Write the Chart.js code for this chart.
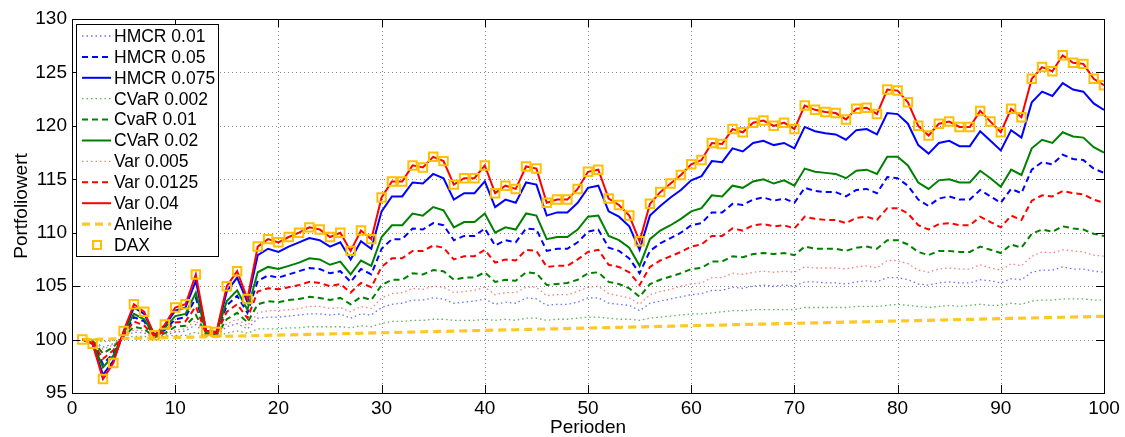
<!DOCTYPE html>
<html>
<head>
<meta charset="utf-8">
<script src="https://cdn.jsdelivr.net/npm/chart.js@4.4.0/dist/chart.umd.min.js"></script>
<style>
  html, body { margin: 0; padding: 0; background: #fff; }
  #wrap { width: 1125px; height: 437px; }
</style>
</head>
<body>
<div id="wrap"><canvas id="chart"></canvas></div>
<script>
const periods = [
  1, 2, 3, 4, 5, 6, 7, 8, 9, 10, 11, 12, 13, 14, 15, 16, 17, 18, 19, 20,
  21, 22, 23, 24, 25, 26, 27, 28, 29, 30, 31, 32, 33, 34, 35, 36, 37, 38, 39, 40,
  41, 42, 43, 44, 45, 46, 47, 48, 49, 50, 51, 52, 53, 54, 55, 56, 57, 58, 59, 60,
  61, 62, 63, 64, 65, 66, 67, 68, 69, 70, 71, 72, 73, 74, 75, 76, 77, 78, 79, 80,
  81, 82, 83, 84, 85, 86, 87, 88, 89, 90, 91, 92, 93, 94, 95, 96, 97, 98, 99, 100
];

const hmcr001 = [
  100.0, 99.9, 99.3, 99.6, 100.2, 100.7, 100.6, 100.2, 100.4, 100.7,
  100.8, 101.4, 100.4, 100.4, 101.2, 101.5, 101.0, 102.0, 102.1, 102.1,
  102.2, 102.3, 102.4, 102.4, 102.3, 102.4, 102.0, 102.4, 102.3, 103.0,
  103.3, 103.4, 103.7, 103.7, 103.9, 103.8, 103.4, 103.5, 103.6, 103.8,
  103.3, 103.5, 103.4, 103.9, 103.8, 103.2, 103.3, 103.3, 103.5, 103.9,
  103.9, 103.4, 103.3, 103.2, 102.7, 103.4, 103.6, 103.8, 104.0, 104.2,
  104.3, 104.6, 104.6, 104.9, 104.8, 105.0, 105.1, 105.0, 105.1, 105.0,
  105.4, 105.4, 105.3, 105.3, 105.2, 105.4, 105.5, 105.4, 105.8, 105.8,
  105.6, 105.2, 105.1, 105.3, 105.4, 105.3, 105.3, 105.6, 105.5, 105.3,
  105.7, 105.6, 106.3, 106.5, 106.5, 106.8, 106.6, 106.6, 106.4, 106.3
];
const hmcr005 = [
  100.0, 99.8, 97.7, 98.7, 100.5, 102.1, 101.7, 100.3, 100.9, 101.9,
  102.1, 103.9, 100.6, 100.5, 103.2, 104.1, 102.5, 105.5, 106.0, 105.8,
  106.1, 106.4, 106.7, 106.6, 106.2, 106.4, 105.4, 106.6, 106.1, 108.5,
  109.4, 109.4, 110.4, 110.3, 110.9, 110.7, 109.3, 109.7, 109.7, 110.4,
  108.8, 109.3, 109.1, 110.4, 110.3, 108.3, 108.5, 108.5, 109.1, 110.1,
  110.3, 108.6, 108.3, 107.6, 106.2, 108.3, 109.0, 109.5, 110.0, 110.7,
  110.9, 111.9, 111.9, 112.7, 112.6, 113.1, 113.3, 113.0, 113.2, 112.8,
  114.2, 113.9, 113.8, 113.8, 113.4, 114.0, 114.1, 113.7, 115.2, 115.1,
  114.4, 113.1, 112.5, 113.2, 113.4, 113.1, 113.1, 114.0, 113.4, 112.8,
  114.1, 113.7, 115.9, 116.6, 116.4, 117.3, 116.9, 116.8, 116.0, 115.6
];
const hmcr0075 = [
  100.0, 99.6, 96.7, 98.0, 100.7, 103.0, 102.4, 100.4, 101.3, 102.7,
  103.0, 105.5, 100.8, 100.7, 104.5, 105.8, 103.5, 107.9, 108.5, 108.2,
  108.7, 109.1, 109.5, 109.3, 108.7, 109.1, 107.5, 109.2, 108.5, 112.0,
  113.4, 113.4, 114.7, 114.6, 115.5, 115.1, 113.1, 113.7, 113.7, 114.8,
  112.4, 113.1, 112.8, 114.7, 114.5, 111.6, 111.9, 111.9, 112.8, 114.2,
  114.4, 112.0, 111.5, 110.6, 108.4, 111.6, 112.5, 113.3, 114.0, 114.9,
  115.3, 116.7, 116.6, 117.9, 117.6, 118.4, 118.6, 118.2, 118.4, 117.9,
  119.9, 119.5, 119.3, 119.2, 118.7, 119.6, 119.7, 119.2, 121.2, 121.1,
  120.2, 118.2, 117.4, 118.4, 118.6, 118.1, 118.1, 119.5, 118.6, 117.7,
  119.6, 118.9, 122.2, 123.2, 122.8, 124.0, 123.4, 123.2, 122.1, 121.5
];
const cvar0002 = [
  100.0, 100.0, 99.8, 99.9, 100.1, 100.3, 100.3, 100.2, 100.3, 100.4,
  100.4, 100.7, 100.3, 100.3, 100.6, 100.8, 100.6, 101.0, 101.0, 101.0,
  101.1, 101.1, 101.2, 101.2, 101.2, 101.2, 101.1, 101.3, 101.2, 101.5,
  101.7, 101.7, 101.8, 101.8, 101.9, 101.9, 101.8, 101.8, 101.8, 101.9,
  101.8, 101.9, 101.8, 102.0, 102.0, 101.8, 101.9, 101.9, 102.0, 102.1,
  102.1, 102.0, 101.9, 101.9, 101.8, 102.0, 102.1, 102.2, 102.3, 102.4,
  102.4, 102.5, 102.6, 102.7, 102.7, 102.8, 102.8, 102.8, 102.8, 102.8,
  103.0, 103.0, 103.0, 103.0, 103.0, 103.1, 103.1, 103.1, 103.2, 103.3,
  103.2, 103.1, 103.0, 103.1, 103.2, 103.1, 103.2, 103.3, 103.2, 103.2,
  103.4, 103.3, 103.6, 103.7, 103.7, 103.8, 103.8, 103.8, 103.7, 103.7
];
const cvar001 = [
  100.0, 99.9, 98.7, 99.3, 100.3, 101.2, 101.0, 100.2, 100.6, 101.2,
  101.3, 102.3, 100.5, 100.4, 101.9, 102.5, 101.6, 103.3, 103.6, 103.5,
  103.7, 103.8, 104.0, 103.9, 103.7, 103.9, 103.3, 104.0, 103.7, 105.1,
  105.6, 105.6, 106.2, 106.1, 106.5, 106.4, 105.6, 105.8, 105.8, 106.3,
  105.4, 105.6, 105.5, 106.3, 106.2, 105.1, 105.2, 105.3, 105.6, 106.2,
  106.3, 105.4, 105.2, 104.8, 104.0, 105.2, 105.6, 105.9, 106.2, 106.6,
  106.7, 107.3, 107.3, 107.8, 107.7, 108.0, 108.1, 108.0, 108.1, 107.9,
  108.7, 108.5, 108.5, 108.5, 108.3, 108.6, 108.7, 108.5, 109.3, 109.3,
  108.9, 108.2, 107.9, 108.3, 108.3, 108.2, 108.2, 108.7, 108.4, 108.1,
  108.9, 108.6, 109.9, 110.3, 110.1, 110.6, 110.4, 110.3, 109.9, 109.7
];
const cvar002 = [
  100.0, 99.7, 97.4, 98.5, 100.6, 102.4, 101.9, 100.3, 101.1, 102.2,
  102.4, 104.4, 100.6, 100.6, 103.6, 104.6, 102.8, 106.3, 106.8, 106.6,
  106.9, 107.2, 107.6, 107.5, 107.0, 107.3, 106.1, 107.4, 106.9, 109.6,
  110.7, 110.7, 111.8, 111.6, 112.4, 112.1, 110.5, 111.0, 111.0, 111.8,
  110.0, 110.5, 110.3, 111.8, 111.6, 109.4, 109.6, 109.6, 110.3, 111.5,
  111.6, 109.7, 109.3, 108.6, 106.9, 109.4, 110.2, 110.7, 111.3, 112.0,
  112.3, 113.5, 113.4, 114.4, 114.2, 114.8, 115.0, 114.6, 114.9, 114.4,
  116.0, 115.7, 115.6, 115.5, 115.1, 115.8, 115.9, 115.5, 117.1, 117.1,
  116.3, 114.7, 114.1, 114.9, 115.0, 114.7, 114.7, 115.8, 115.1, 114.3,
  115.9, 115.4, 117.9, 118.7, 118.4, 119.4, 119.0, 118.9, 118.0, 117.5
];
const var0005 = [
  100.0, 99.9, 99.1, 99.5, 100.3, 100.9, 100.8, 100.2, 100.5, 100.9,
  101.0, 101.8, 100.4, 100.4, 101.5, 101.9, 101.3, 102.5, 102.7, 102.7,
  102.8, 102.9, 103.1, 103.1, 102.9, 103.0, 102.6, 103.1, 102.9, 103.9,
  104.3, 104.4, 104.8, 104.7, 105.0, 104.9, 104.4, 104.5, 104.6, 104.9,
  104.2, 104.4, 104.4, 104.9, 104.9, 104.1, 104.2, 104.2, 104.5, 104.9,
  105.0, 104.3, 104.1, 103.9, 103.3, 104.2, 104.5, 104.7, 105.0, 105.2,
  105.3, 105.8, 105.8, 106.2, 106.1, 106.3, 106.4, 106.3, 106.4, 106.3,
  106.8, 106.7, 106.7, 106.7, 106.6, 106.8, 106.9, 106.7, 107.4, 107.4,
  107.1, 106.5, 106.3, 106.6, 106.7, 106.6, 106.6, 107.0, 106.7, 106.5,
  107.1, 106.9, 107.8, 108.2, 108.1, 108.4, 108.3, 108.2, 107.9, 107.8
];
const var00125 = [
  100.0, 99.8, 98.2, 99.0, 100.4, 101.7, 101.3, 100.3, 100.8, 101.6,
  101.7, 103.1, 100.5, 100.5, 102.6, 103.3, 102.0, 104.5, 104.8, 104.7,
  104.9, 105.1, 105.4, 105.3, 105.0, 105.2, 104.4, 105.3, 104.9, 106.8,
  107.6, 107.6, 108.3, 108.3, 108.8, 108.6, 107.5, 107.8, 107.8, 108.4,
  107.2, 107.5, 107.4, 108.4, 108.3, 106.8, 106.9, 106.9, 107.5, 108.2,
  108.4, 107.0, 106.8, 106.3, 105.1, 106.8, 107.4, 107.8, 108.2, 108.7,
  108.9, 109.7, 109.7, 110.4, 110.2, 110.7, 110.8, 110.6, 110.7, 110.4,
  111.5, 111.3, 111.2, 111.2, 110.9, 111.4, 111.5, 111.2, 112.3, 112.3,
  111.8, 110.7, 110.3, 110.8, 110.9, 110.7, 110.7, 111.5, 111.0, 110.5,
  111.6, 111.2, 113.0, 113.5, 113.4, 113.9, 113.7, 113.6, 113.1, 112.8
];
const var004 = [
  100.0, 99.6, 96.3, 97.8, 100.8, 103.3, 102.6, 100.4, 101.4, 103.0,
  103.3, 106.1, 100.8, 100.7, 105.0, 106.4, 103.8, 108.7, 109.4, 109.1,
  109.6, 110.0, 110.5, 110.3, 109.6, 110.0, 108.3, 110.2, 109.4, 113.3,
  114.8, 114.8, 116.3, 116.1, 117.1, 116.7, 114.5, 115.1, 115.1, 116.3,
  113.7, 114.4, 114.1, 116.2, 116.0, 112.8, 113.1, 113.1, 114.1, 115.7,
  115.9, 113.2, 112.6, 111.6, 109.2, 112.7, 113.8, 114.6, 115.4, 116.4,
  116.8, 118.4, 118.3, 119.7, 119.4, 120.3, 120.5, 120.0, 120.3, 119.7,
  121.9, 121.5, 121.3, 121.2, 120.6, 121.6, 121.7, 121.1, 123.4, 123.3,
  122.2, 120.0, 119.1, 120.2, 120.4, 119.9, 119.9, 121.4, 120.4, 119.4,
  121.6, 120.8, 124.4, 125.5, 125.1, 126.6, 125.9, 125.8, 124.4, 123.8
];
const anleihe = [
  100.00, 100.02, 100.04, 100.07, 100.09, 100.11, 100.13, 100.15, 100.18, 100.20,
  100.22, 100.24, 100.26, 100.29, 100.31, 100.33, 100.35, 100.37, 100.40, 100.42,
  100.44, 100.46, 100.48, 100.51, 100.53, 100.55, 100.57, 100.59, 100.62, 100.64,
  100.66, 100.68, 100.70, 100.73, 100.75, 100.77, 100.79, 100.81, 100.84, 100.86,
  100.88, 100.90, 100.92, 100.95, 100.97, 100.99, 101.01, 101.03, 101.06, 101.08,
  101.10, 101.12, 101.14, 101.17, 101.19, 101.21, 101.23, 101.25, 101.28, 101.30,
  101.32, 101.34, 101.36, 101.39, 101.41, 101.43, 101.45, 101.47, 101.50, 101.52,
  101.54, 101.56, 101.58, 101.61, 101.63, 101.65, 101.67, 101.69, 101.72, 101.74,
  101.76, 101.78, 101.80, 101.83, 101.85, 101.87, 101.89, 101.91, 101.94, 101.96,
  101.98, 102.00, 102.02, 102.05, 102.07, 102.09, 102.11, 102.13, 102.16, 102.18
];
const dax = [
  100.0, 99.6, 96.3, 97.8, 100.8, 103.3, 102.6, 100.4, 101.4, 103.0,
  103.3, 106.1, 100.8, 100.7, 105.0, 106.4, 103.8, 108.7, 109.4, 109.1,
  109.6, 110.0, 110.5, 110.3, 109.6, 110.0, 108.3, 110.2, 109.4, 113.3,
  114.8, 114.8, 116.3, 116.1, 117.1, 116.7, 114.5, 115.1, 115.1, 116.3,
  113.7, 114.4, 114.1, 116.2, 116.0, 112.8, 113.1, 113.1, 114.1, 115.7,
  115.9, 113.2, 112.6, 111.6, 109.2, 112.7, 113.8, 114.6, 115.4, 116.4,
  116.8, 118.4, 118.3, 119.7, 119.4, 120.3, 120.5, 120.0, 120.3, 119.7,
  121.9, 121.5, 121.3, 121.2, 120.6, 121.6, 121.7, 121.1, 123.4, 123.3,
  122.2, 120.0, 119.1, 120.2, 120.4, 119.9, 119.9, 121.4, 120.4, 119.4,
  121.6, 120.8, 124.4, 125.5, 125.1, 126.6, 125.9, 125.8, 124.4, 123.8
];

const xTicks = [0, 10, 20, 30, 40, 50, 60, 70, 80, 90, 100];
const yTicks = [95, 100, 105, 110, 115, 120, 125, 130];

const FONT = 'Liberation Sans, Arial, Helvetica, sans-serif';
const DOT = [1.5, 3];
const DASH = [6, 4];

const toXY = (vals) => vals.map((v, i) => ({x: periods[i], y: v}));

const line = (label, vals, color, width, dash) => ({
    label: label,
    data: toXY(vals),
    borderColor: color,
    backgroundColor: color,
    borderWidth: width,
    borderDash: dash,
    pointRadius: 0,
    fill: false,
    tension: 0
});

const datasets = [
    line('HMCR 0.01', hmcr001, 'rgba(60,60,255,0.75)', 1.3, DOT),
    line('HMCR 0.05', hmcr005, '#0000ff', 2, DASH),
    line('HMCR 0.075', hmcr0075, '#0000ff', 2, []),
    line('CVaR 0.002', cvar0002, 'rgba(40,150,40,0.75)', 1.3, DOT),
    line('CvaR 0.01', cvar001, '#008000', 2, DASH),
    line('CVaR 0.02', cvar002, '#008000', 2, []),
    line('Var 0.005', var0005, 'rgba(255,70,70,0.7)', 1.3, DOT),
    line('Var 0.0125', var00125, '#ff0000', 2, DASH),
    line('Var 0.04', var004, '#ff0000', 2, []),
    line('Anleihe', anleihe, 'rgba(255,190,0,0.85)', 3.2, [8, 5]),
    {
        label: 'DAX',
        data: toXY(dax),
        showLine: false,
        pointStyle: 'rect',
        pointRadius: 6,
        pointBorderWidth: 2,
        pointBorderColor: '#ffc000',
        pointBackgroundColor: 'rgba(0,0,0,0)',
        borderColor: '#ffc000',
        backgroundColor: 'rgba(0,0,0,0)'
    }
];
// later series on top, as in the original plot
datasets.forEach((d, i) => { d.order = datasets.length - i; });

// dotted grid under the data, box frame with inward ticks over it
const framePlugin = {
    id: 'frame',
    beforeDatasetsDraw(chart) {
        const {ctx, chartArea: a, scales: {x, y}} = chart;
        ctx.save();
        ctx.strokeStyle = '#8a8a8a';
        ctx.lineWidth = 1;
        ctx.setLineDash([1, 3]);
        ctx.beginPath();
        xTicks.forEach(t => {
            const px = Math.round(x.getPixelForValue(t)) + 0.5;
            ctx.moveTo(px, a.top); ctx.lineTo(px, a.bottom);
        });
        yTicks.forEach(t => {
            const py = Math.round(y.getPixelForValue(t)) + 0.5;
            ctx.moveTo(a.left, py); ctx.lineTo(a.right, py);
        });
        ctx.stroke();
        ctx.restore();
    },
    afterDatasetsDraw(chart) {
        const {ctx, chartArea: a, scales: {x, y}} = chart;
        ctx.save();
        ctx.strokeStyle = '#000';
        ctx.lineWidth = 1;
        ctx.setLineDash([]);
        ctx.strokeRect(a.left + 0.5, a.top + 0.5, a.right - a.left, a.bottom - a.top);
        ctx.beginPath();
        xTicks.forEach(t => {
            const px = Math.round(x.getPixelForValue(t)) + 0.5;
            ctx.moveTo(px, a.bottom); ctx.lineTo(px, a.bottom - 8);
            ctx.moveTo(px, a.top); ctx.lineTo(px, a.top + 8);
        });
        yTicks.forEach(t => {
            const py = Math.round(y.getPixelForValue(t)) + 0.5;
            ctx.moveTo(a.left, py); ctx.lineTo(a.left + 8, py);
            ctx.moveTo(a.right, py); ctx.lineTo(a.right - 8, py);
        });
        ctx.stroke();
        ctx.restore();
    }
};

// legend box in the upper left corner of the plot
const legendPlugin = {
    id: 'boxLegend',
    afterDraw(chart) {
        const {ctx, chartArea: a} = chart;
        const ds = chart.data.datasets;
        const bx = a.left + 4, by = a.top + 5, bw = 142, bh = 232;
        const rowH = 20.9;
        ctx.save();
        ctx.fillStyle = '#fff';
        ctx.fillRect(bx, by, bw, bh);
        ctx.strokeStyle = '#000';
        ctx.lineWidth = 1;
        ctx.setLineDash([]);
        ctx.strokeRect(bx + 0.5, by + 0.5, bw, bh);
        ctx.font = '17.5px ' + FONT;
        ctx.textBaseline = 'middle';
        ds.forEach((d, i) => {
            const cy = by + 12 + i * rowH;
            if (d.showLine === false) {
                ctx.setLineDash([]);
                ctx.strokeStyle = d.pointBorderColor;
                ctx.lineWidth = 2;
                ctx.strokeRect(bx + 17, cy - 4, 8, 8);
            } else {
                ctx.setLineDash(d.borderDash);
                ctx.strokeStyle = d.borderColor;
                ctx.lineWidth = d.borderWidth;
                ctx.beginPath();
                ctx.moveTo(bx + 6, cy);
                ctx.lineTo(bx + 35, cy);
                ctx.stroke();
            }
            ctx.setLineDash([]);
            ctx.fillStyle = '#000';
            ctx.fillText(d.label, bx + 38, cy + 1);
        });
        ctx.restore();
    }
};

new Chart(document.getElementById('chart'), {
    type: 'line',
    data: {datasets: datasets},
    options: {
        responsive: true,
        maintainAspectRatio: false,
        animation: false,
        layout: {padding: {left: 0, top: 19, right: 21, bottom: 0}},
        plugins: {legend: {display: false}, tooltip: {enabled: false}},
        scales: {
            x: {
                type: 'linear',
                min: 0,
                max: 100,
                afterFit(scale) { scale.height = 44; },
                afterBuildTicks(scale) { scale.ticks = xTicks.map(v => ({value: v})); },
                ticks: {color: '#000', font: {family: FONT, size: 19}, padding: 4, maxRotation: 0},
                grid: {display: false, drawTicks: false},
                border: {display: false},
                title: {display: true, text: 'Perioden', color: '#000', font: {family: FONT, size: 19}, padding: {top: 0, bottom: -2}}
            },
            y: {
                type: 'linear',
                min: 95,
                max: 130,
                afterFit(scale) { scale.width = 72; },
                afterBuildTicks(scale) { scale.ticks = yTicks.map(v => ({value: v})); },
                ticks: {color: '#000', font: {family: FONT, size: 19}, padding: 5},
                grid: {display: false, drawTicks: false},
                border: {display: false},
                title: {display: true, text: 'Portfoliowert', color: '#000', font: {family: FONT, size: 19}, padding: {top: 10, bottom: 0}}
            }
        }
    },
    plugins: [framePlugin, legendPlugin]
});
</script>
</body>
</html>
